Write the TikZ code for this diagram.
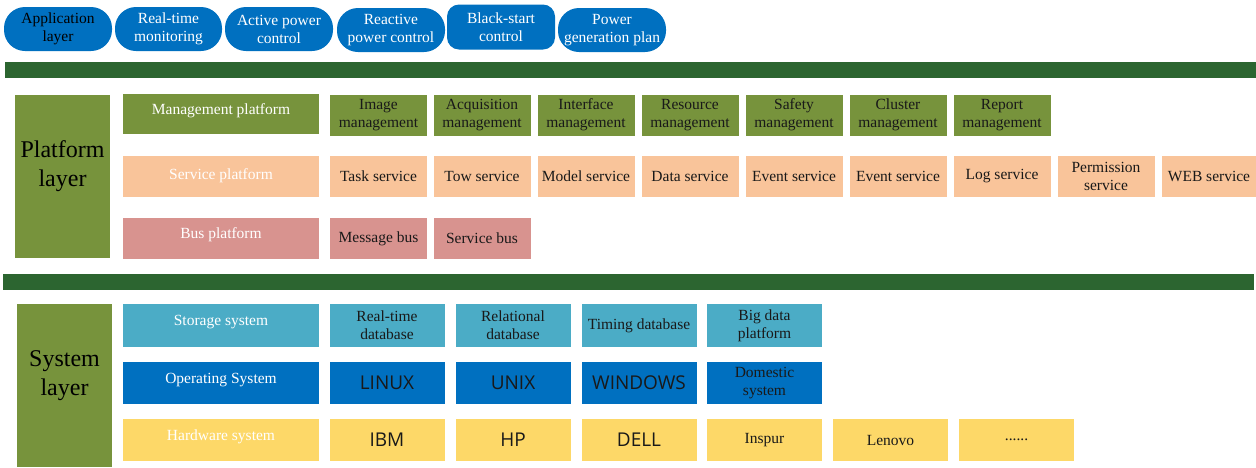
\documentclass[tikz,border=0pt]{standalone}
\usepackage{fontspec}
\setmainfont{Liberation Serif}
\newfontfamily\osfont{Open Sans}

\definecolor{appblue}{HTML}{0070C0}
\definecolor{bargreen}{HTML}{2C6530}
\definecolor{layergreen}{HTML}{77933C}
\definecolor{servpeach}{HTML}{F9C49A}
\definecolor{busrose}{HTML}{D8938F}
\definecolor{storecyan}{HTML}{4BACC6}
\definecolor{hwyellow}{HTML}{FDD868}

\tikzset{
	cell/.style={inner sep=0pt, align=center, text=black!90,
		font=\fontsize{15.5}{18}\selectfont},
	appnode/.style={cell, fill=appblue, text=white, rounded corners=21pt,
		minimum width=108pt, minimum height=44pt},
	layerbox/.style={cell, fill=layergreen, text=black, minimum width=95pt,
		minimum height=163pt, text depth=25pt, font=\fontsize{24}{29}\selectfont},
	headbox/.style={cell, text=white, minimum width=196pt, minimum height=41pt,
		text depth=10pt},
	pbox/.style={cell, minimum width=97pt, minimum height=41pt},
	sbox/.style={cell, minimum width=115pt, minimum height=43pt},
	brand/.style={font=\osfont\fontsize{19}{22}\selectfont}
}

\begin{document}
\begin{tikzpicture}[x=1pt, y=-1pt]
		\useasboundingbox (0, 0) rectangle (1256, 467);
		
		\node[appnode, text=black] (app) at (58, 29) {Application\\layer};
		\node[appnode, minimum width=107pt] (rtmon) at (168.5, 29) {Real-time\\monitoring};
		\node[appnode] (apc) at (279, 29) {Active power\\control};
		\node[appnode] (rpc) at (391, 30) {Reactive\\power control};
		\node[appnode, rounded corners=12pt, minimum height=45pt] (bsc) at (501, 27) {Black-start\\control};
		\node[appnode] (genplan) at (612, 30) {Power\\generation plan};
		
		\fill[bargreen] (5, 62) rectangle (1256, 78);
		
		\node[layerbox] (platlayer) at (62.5, 176.5) {Platform\\layer};
		
		\node[headbox, fill=layergreen, minimum height=40pt] (mgmt) at (221, 114) {Management platform};
		\node[pbox, fill=layergreen] (imgmgmt) at (378.5, 115) {Image\\management};
		\node[pbox, fill=layergreen] (acqmgmt) at (482, 115) {Acquisition\\management};
		\node[pbox, fill=layergreen] (ifmgmt) at (586, 115) {Interface\\management};
		\node[pbox, fill=layergreen] (resmgmt) at (690, 115) {Resource\\management};
		\node[pbox, fill=layergreen] (safemgmt) at (794, 115) {Safety\\management};
		\node[pbox, fill=layergreen] (clumgmt) at (898, 115) {Cluster\\management};
		\node[pbox, fill=layergreen] (repmgmt) at (1002, 115) {Report\\management};
		
		\node[headbox, fill=servpeach, text depth=4pt] (serv) at (221, 176.5) {Service platform};
		\node[pbox, fill=servpeach] (tasksrv) at (378.5, 176.5) {Task service};
		\node[pbox, fill=servpeach] (towsrv) at (482, 176.5) {Tow service};
		\node[pbox, fill=servpeach] (modsrv) at (586, 176.5) {Model service};
		\node[pbox, fill=servpeach] (datasrv) at (690, 176.5) {Data service};
		\node[pbox, fill=servpeach] (evsrva) at (794, 176.5) {Event service};
		\node[pbox, fill=servpeach] (evsrvb) at (898, 176.5) {Event service};
		\node[pbox, fill=servpeach] (logsrv) at (1002, 176.5) {Log service};
		\node[pbox, fill=servpeach] (permsrv) at (1106, 176.5) {Permission\\service};
		\node[pbox, fill=servpeach, minimum width=94pt] (websrv) at (1209, 176.5) {WEB service};
		
		\node[headbox, fill=busrose] (bus) at (221, 238.5) {Bus platform};
		\node[pbox, fill=busrose] (msgbus) at (378.5, 238.5) {Message bus};
		\node[pbox, fill=busrose] (srvbus) at (482, 238.5) {Service bus};
		
		\fill[bargreen] (3, 274) rectangle (1254, 290);
		
		\node[layerbox] (syslayer) at (64.5, 385.5) {System\\layer};
		
		\node[headbox, fill=storecyan, minimum height=43pt] (store) at (221, 325.5) {Storage system};
		\node[sbox, fill=storecyan] (rtdb) at (387, 325.5) {Real-time\\database};
		\node[sbox, fill=storecyan] (reldb) at (513, 325.5) {Relational\\database};
		\node[sbox, fill=storecyan] (timedb) at (639, 325.5) {Timing database};
		\node[sbox, fill=storecyan] (bigdata) at (764.5, 325.5) {Big data\\platform};
		
		\node[headbox, fill=appblue, minimum height=42pt] (opsys) at (221, 383) {Operating System};
		\node[sbox, fill=appblue, minimum height=42pt, brand] (linux) at (387, 383) {LINUX};
		\node[sbox, fill=appblue, minimum height=42pt, brand] (unix) at (513, 383) {UNIX};
		\node[sbox, fill=appblue, minimum height=42pt, brand] (windows) at (639, 383) {WINDOWS};
		\node[sbox, fill=appblue, minimum height=42pt] (domestic) at (764.5, 383) {Domestic\\system};
		
		\node[headbox, fill=hwyellow, minimum height=42pt] (hw) at (221, 440) {Hardware system};
		\node[sbox, fill=hwyellow, minimum height=42pt, brand] (ibm) at (387, 440) {IBM};
		\node[sbox, fill=hwyellow, minimum height=42pt, brand] (hp) at (513, 440) {HP};
		\node[sbox, fill=hwyellow, minimum height=42pt, brand] (dell) at (639, 440) {DELL};
		\node[sbox, fill=hwyellow, minimum height=42pt] (inspur) at (764.5, 440) {Inspur};
		\node[sbox, fill=hwyellow, minimum height=42pt] (lenovo) at (890.5, 440) {Lenovo};
		\node[sbox, fill=hwyellow, minimum height=42pt] (more) at (1016.5, 440) {......};
	\end{tikzpicture}
\end{document}
